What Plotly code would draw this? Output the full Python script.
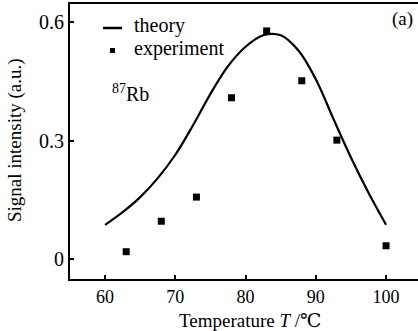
import plotly.graph_objects as go

# Data
theory_T = [60, 62.5, 65, 67.5, 70, 72.5, 75, 77.5, 80, 82.5, 85, 87.5, 90, 92.5, 95, 97.5, 100]
theory_S = [0.087, 0.119, 0.157, 0.205, 0.264, 0.338, 0.418, 0.488, 0.537, 0.566, 0.566, 0.528,
            0.455, 0.355, 0.257, 0.168, 0.087]
exp_T = [63, 68, 73, 78, 83, 88, 93, 100]
exp_S = [0.019, 0.096, 0.157, 0.408, 0.577, 0.451, 0.301, 0.034]
x_ticks = [60, 70, 80, 90, 100]
y_ticks = [0, 0.3, 0.6]
y_ticklabels = ["0", "0.3", "0.6"]

FONT = "Liberation Serif, DejaVu Serif, Times New Roman, serif"
W, H = 418, 331
L, R, T, B = 70, 0, 4, 52
pw, ph = W - L - R, H - T - B

def px(x):
    return (x - L) / pw

def py(y):
    return (H - B - y) / ph

fig = go.Figure()
fig.add_trace(go.Scatter(x=theory_T, y=theory_S, mode="lines",
                         line=dict(color="black", width=2.2, shape="spline", smoothing=1.0),
                         showlegend=False))
fig.add_trace(go.Scatter(x=exp_T, y=exp_S, mode="markers",
                         marker=dict(symbol="square", size=7, color="black"),
                         showlegend=False))

fig.update_layout(
    width=W, height=H,
    margin=dict(l=L, r=R, t=T, b=B),
    paper_bgcolor="white", plot_bgcolor="white",
    font=dict(family=FONT, size=20, color="black"),
    xaxis=dict(range=[55, 104.55], tickvals=x_ticks, ticks="inside", ticklen=4,
               tickwidth=1.5, tickcolor="black", showline=True, linecolor="black",
               linewidth=2, mirror=True, showgrid=False, zeroline=False,
               tickfont=dict(size=18)),
    yaxis=dict(range=[-0.05, 0.645], tickvals=y_ticks, ticktext=y_ticklabels,
               ticks="inside", ticklen=4, tickwidth=1.5, tickcolor="black",
               showline=True, linecolor="black", linewidth=2, showgrid=False,
               zeroline=False, tickfont=dict(size=20)),
)

# axis titles
fig.add_annotation(text="Temperature <i>T</i> /℃", xref="paper", yref="paper",
                   x=px(250), y=py(320), xanchor="center", yanchor="middle",
                   showarrow=False, font=dict(size=19))
fig.add_annotation(text="Signal intensity (a.u.)", xref="paper", yref="paper",
                   x=px(15), y=py(140), xanchor="center", yanchor="middle",
                   textangle=-90, showarrow=False, font=dict(size=19))

# manual legend
fig.add_shape(type="line", xref="paper", yref="paper",
              x0=px(103), x1=px(122), y0=py(28), y1=py(28),
              line=dict(color="black", width=2.5))
fig.add_shape(type="rect", xref="paper", yref="paper",
              x0=px(110), x1=px(115), y0=py(53), y1=py(48),
              fillcolor="black", line=dict(width=0))
fig.add_annotation(text="theory", xref="paper", yref="paper", x=px(132), y=py(26),
                   xanchor="left", yanchor="middle", showarrow=False, font=dict(size=20))
fig.add_annotation(text="experiment", xref="paper", yref="paper", x=px(132), y=py(48),
                   xanchor="left", yanchor="middle", showarrow=False, font=dict(size=20))
fig.add_annotation(text="<sup>87</sup>Rb", xref="paper", yref="paper", x=px(110), y=py(93),
                   xanchor="left", yanchor="middle", showarrow=False, font=dict(size=20))
fig.add_annotation(text="(a)", xref="paper", yref="paper", x=px(415), y=py(19),
                   xanchor="right", yanchor="middle", showarrow=False, font=dict(size=19))

fig.write_html("out.html")
